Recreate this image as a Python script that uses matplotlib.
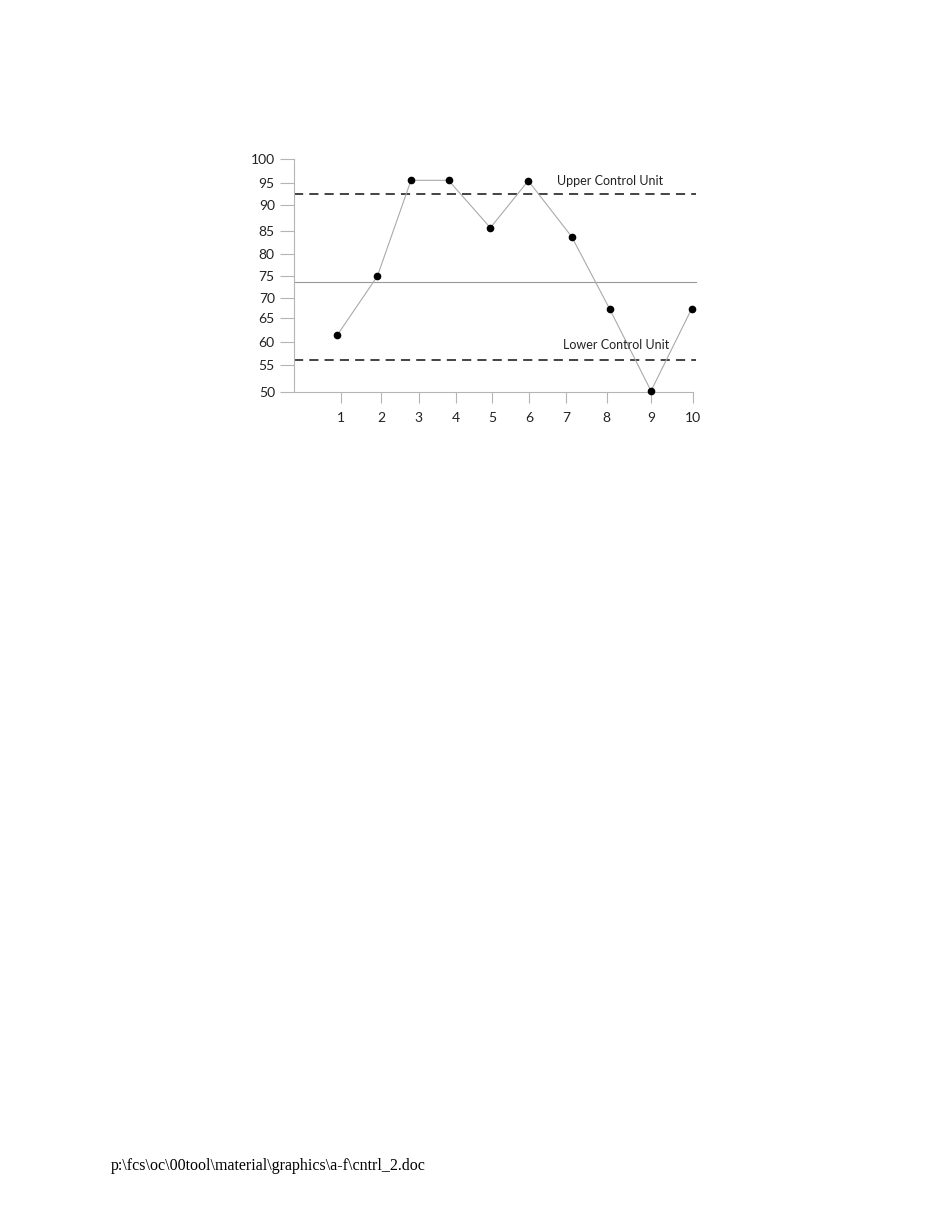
import matplotlib
matplotlib.use("Agg")
import matplotlib.pyplot as plt

# sample positions as drawn (x) and measured values (y)
samples = [0.9, 1.93, 2.79, 3.75, 4.82, 5.79, 6.9, 7.87, 8.93, 9.97]
values = [62.1, 74.8, 95.4, 95.4, 85.2, 95.3, 83.3, 67.8, 50.15, 67.8]

# hand-placed tick marks of the original drawing
xtick_pos = [1.0, 2.03, 2.99, 3.94, 4.86, 5.82, 6.75, 7.80, 8.93, 10.0]
xtick_labels = ["1", "2", "3", "4", "5", "6", "7", "8", "9", "10"]
ytick_pos = [50, 55.7, 60.6, 65.8, 70.1, 74.9, 79.5, 84.5, 90.1, 94.8, 100]
ytick_labels = ["50", "55", "60", "65", "70", "75", "80", "85", "90", "95", "100"]

ucl = 92.4
center = 73.6
lcl = 56.8

plt.rcParams["font.family"] = ["Lato", "DejaVu Sans"]

fig = plt.figure(figsize=(9.5, 12.3), dpi=100)
ax = fig.add_axes([0.3098, 0.6816, 0.4228, 0.1892])

xmin, xmax = -0.195, 10.08
ax.set_xlim(xmin, xmax)
ax.set_ylim(50, 100)

GRAY = "#b5b5b5"

# control lines
ax.plot([xmin, xmax], [ucl, ucl], color="#111111", lw=1.1, dashes=(6, 4), clip_on=False)
ax.plot([xmin, xmax], [lcl, lcl], color="#111111", lw=1.1, dashes=(6, 4), clip_on=False)
ax.plot([xmin, xmax], [center, center], color="#999999", lw=0.8, clip_on=False)

ax.plot(samples, values, color="#aaaaaa", lw=0.8, clip_on=False, zorder=3)
ax.plot(samples, values, "o", color="black", ms=4.5, clip_on=False, zorder=4)

ax.text(6.52, ucl + 1.5, "Upper Control Unit", fontsize=9, color="#222222",
        ha="left", va="bottom")
ax.text(6.67, lcl + 1.9, "Lower Control Unit", fontsize=9, color="#222222",
        ha="left", va="bottom")

for s in ["top", "right"]:
    ax.spines[s].set_visible(False)
for s in ["left", "bottom"]:
    ax.spines[s].set_color(GRAY)
    ax.spines[s].set_linewidth(0.8)
ax.spines["bottom"].set_bounds(xmin, 10.0)

ax.set_xticks(xtick_pos)
ax.set_xticklabels(xtick_labels)
ax.set_yticks(ytick_pos)
ax.set_yticklabels(ytick_labels)
ax.tick_params(axis="y", length=10, width=0.8, color=GRAY, pad=4,
               labelsize=10, labelcolor="#222222")
ax.tick_params(axis="x", length=8, width=0.8, color=GRAY, pad=7,
               labelsize=10, labelcolor="#222222")

fig.text(0.117, 1 - 1166 / 1230, r"p:\fcs\oc\00tool\material\graphics\a-f\cntrl_2.doc",
         family="Liberation Serif", fontsize=11.5, color="black", ha="left", va="center")

fig.savefig("out.png", dpi=100)
